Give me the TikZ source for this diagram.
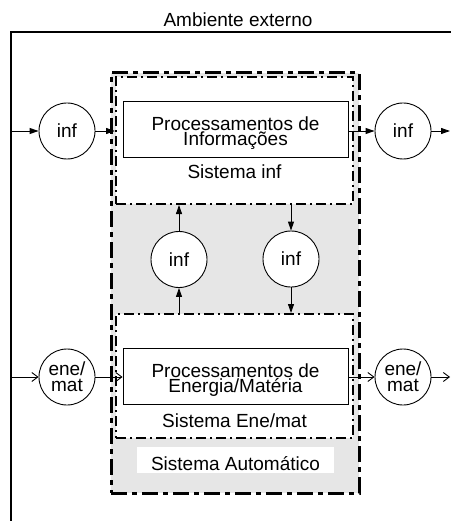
\documentclass[tikz,border=0pt]{standalone}
\usepackage{fontspec}
\setmainfont{Liberation Sans}
\usepackage{tikz}
\usetikzlibrary{arrows.meta,positioning,calc}

\definecolor{autogray}{RGB}{230,230,230}

\begin{document}
\begin{tikzpicture}[x=1pt, y=-1pt,
        txt/.style={font=\fontsize{19}{15}\selectfont, inner sep=0pt},
        sysbox/.style={rectangle, draw, fill=white, line width=2pt,
                       dash pattern=on 10pt off 4pt on 2pt off 4pt,
                       minimum width=237pt},
        procbox/.style={rectangle, draw, fill=white, line width=0.9pt,
                        minimum width=225pt, minimum height=56pt,
                        align=center, txt},
        flow/.style={circle, draw, fill=white, line width=0.9pt,
                     minimum size=56pt, align=center, txt},
        infarrow/.style={-{Triangle[length=9pt,width=6pt]}, line width=0.9pt},
        matarrow/.style={-{Straight Barb[length=6pt,width=9pt]}, line width=0.9pt}
    ]
        \useasboundingbox (0,0) rectangle (451,521);

        \node[txt, anchor=base] (amb) at (238,26.7) {Ambiente externo};
        \draw[line width=1.5pt] (11,521) |- (451,32);

        \node[rectangle, draw, fill=autogray, line width=3pt,
              dash pattern=on 16pt off 5pt on 5pt off 5pt,
              minimum width=248pt, minimum height=420pt] (auto) at (235,283) {};

        \node[sysbox, minimum height=127pt] (sisinf) at (234.5,140.5) {};
        \node[sysbox, minimum height=124pt] (sisene) at (234.5,376) {};

        \node[procbox] (procinf) at (235.5,129) {\rule{0pt}{22pt}Processamentos de\\Informações};
        \node[procbox] (procene) at (235.5,376) {\rule{0pt}{22pt}Processamentos de\\Energia/Matéria};

        \node[txt, anchor=base] (lblinf) at (234.5,179) {Sistema inf};
        \node[txt, anchor=base] (lblene) at (234.5,427) {Sistema Ene/mat};
        \node[txt, fill=white, minimum width=197pt, minimum height=26pt,
              text height=20pt, text depth=0pt] (lblauto) at (235.5,460) {Sistema Automático};

        \node[flow] (infin)   at (67,131)    {inf};
        \node[flow] (infout)  at (403,131)   {inf};
        \node[flow, font=\fontsize{19}{16}\selectfont] (matin)  at (67,377)  {ene/\\mat};
        \node[flow, font=\fontsize{19}{16}\selectfont] (matout) at (403,377) {ene/\\mat};
        \node[flow] (infup)   at (179,259.5) {inf};
        \node[flow] (infdown) at (291,259)   {inf};

        \coordinate (infsrc) at (11,131);
        \coordinate (infdst) at (450,131);
        \coordinate (matsrc) at (11,377);
        \coordinate (matdst) at (450,377);

        \draw[infarrow] (infsrc) -- (infin);
        \draw[infarrow] (infin) -- (sisinf.west |- infin);
        \draw[infarrow] (procinf.east |- infout) -- (infout);
        \draw[infarrow] (infout) -- (infdst);
        \draw[matarrow] (matsrc) -- (matin);
        \draw[matarrow] (matin) -- (procene.west |- matin);
        \draw[matarrow] (procene.east |- matout) -- (matout);
        \draw[matarrow] (matout) -- (matdst);
        \draw[infarrow] (sisene.north -| infup) -- (infup);
        \draw[infarrow] (infup) -- (sisinf.south -| infup);
        \draw[infarrow] (sisinf.south -| infdown) -- (infdown);
        \draw[infarrow] (infdown) -- (sisene.north -| infdown);
    \end{tikzpicture}
\end{document}
